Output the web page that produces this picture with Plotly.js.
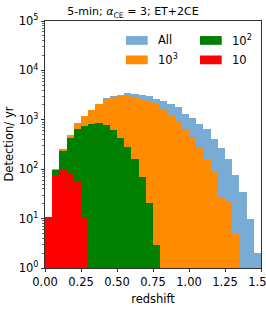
<!DOCTYPE html>
<html><head><meta charset="utf-8">
<script src="https://cdn.plot.ly/plotly-3.0.1.min.js"></script>
<style>html,body{margin:0;padding:0;background:#fff}#chart{width:266px;height:316px}</style>
</head><body><div id="chart"></div>
<script>
// redshift bin centres (bin width 0.05)
const binCenters = [0.025,0.075,0.125,0.175,0.225,0.275,0.325,0.375,0.425,0.475,
  0.525,0.575,0.625,0.675,0.725,0.775,0.825,0.875,0.925,0.975,
  1.025,1.075,1.125,1.175,1.225,1.275,1.325,1.375,1.425,1.475];
const binWidth = 0.05;
const allCounts = [10.6,100,256,482,852,1212,1585,2085,2700,3000,
  3230,3430,3400,3230,2985,2680,2400,2055,1790,1335,
  1107,824,643,417,270,159,78,33.8,9.6,2.0];
const counts1000 = [10.6,99,252,474,844,1202,1566,2070,2611,2880,
  3000,3060,2900,2560,2340,2050,1660,1280,960,640,
  442,282,157,88,26.8,21.8,4.9,null,null,null];
const counts100 = [10.6,95,239,420,664,750,810,850,776,630,
  430,280,158,70,20.3,2.9,null,null,null,null,
  null,null,null,null,null,null,null,null,null,null];
const counts10 = [10.6,73,103,83,59,10.6,null,null,null,null,
  null,null,null,null,null,null,null,null,null,null,
  null,null,null,null,null,null,null,null,null,null];
const seriesNames = ['All','10<sup>3</sup>','10<sup>2</sup>','10'];
const seriesColors = ['#79acd4','#ff8c00','#008000','#ff0000'];
const seriesData = [allCounts, counts1000, counts100, counts10];
const yTickVals = [1,10,100,1000,10000,100000];
const yTickText = ['10<sup>0</sup>','10<sup>1</sup>','10<sup>2</sup>','10<sup>3</sup>','10<sup>4</sup>','10<sup>5</sup>'];
const xTickVals = [0,0.25,0.5,0.75,1.0,1.25,1.5];
const xTickText = ['0.00','0.25','0.50','0.75','1.00','1.25','1.50'];

const minorVals = [];
for (let e = 0; e < 5; e++) for (let m = 2; m <= 9; m++) minorVals.push(m * Math.pow(10, e));

const traces = seriesData.map((vals, i) => ({
  type: 'bar', x: binCenters, y: vals, width: binWidth,
  marker: {color: seriesColors[i], line: {width: 0}},
  name: seriesNames[i], showlegend: false, hoverinfo: 'skip'
}));

// plot area in px
const L = 45, R = 261, T = 20.5, B = 268.3;
const W = 266, H = 316;
const px = v => (v - L) / (R - L);
const py = v => (B - v) / (B - T);

// manual legend (two columns)
const legendCols = [[0, 1], [2, 3]];
const colPatchX = [126, 200];
const colTextX = [156, 230];
const rowY = [40, 59.5];
const shapes = [], annotations = [];
legendCols.forEach((col, c) => col.forEach((si, r) => {
  shapes.push({type: 'rect', xref: 'paper', yref: 'paper',
    x0: px(colPatchX[c]), x1: px(colPatchX[c] + 21.7),
    y0: py(rowY[r] + 4.4), y1: py(rowY[r] - 4.4),
    fillcolor: seriesColors[si], line: {width: 0}});
  annotations.push({xref: 'paper', yref: 'paper', x: px(colTextX[c]), y: py(rowY[r]),
    xanchor: 'left', yanchor: 'middle', showarrow: false, text: seriesNames[si],
    font: {size: 11.5, color: '#000'}});
}));
annotations.push({xref: 'paper', yref: 'paper', x: px(8), y: 0.5, textangle: -90,
  xanchor: 'center', yanchor: 'middle', showarrow: false, text: 'Detection/ yr',
  font: {size: 11.5, color: '#000'}});

const layout = {
  width: W, height: H,
  margin: {l: L, r: W - R, t: T, b: H - B, pad: 0},
  paper_bgcolor: '#fff', plot_bgcolor: '#fff',
  font: {family: 'DejaVu Sans', size: 11.5, color: '#000'},
  barmode: 'overlay', bargap: 0,
  title: {text: '5-min; <i>α</i><sub>CE</sub> = 3; ET+2CE', font: {size: 11},
    x: px(153), xanchor: 'center', y: 1 - 11.5 / H, yanchor: 'middle'},
  xaxis: {range: [0, 1.5], tickmode: 'array', tickvals: xTickVals, ticktext: xTickText,
    ticks: 'outside', ticklen: 3.5, tickwidth: 0.8, tickcolor: '#000',
    ticklabeloverflow: 'allow',
    showline: true, linecolor: '#000', linewidth: 0.8, mirror: true,
    showgrid: false, zeroline: false,
    title: {text: 'redshift', font: {size: 11.5}, standoff: 6}},
  yaxis: {type: 'log', range: [0, 5], tickmode: 'array', tickvals: yTickVals, ticktext: yTickText,
    ticks: 'outside', ticklen: 3.5, tickwidth: 0.8, tickcolor: '#000',
    minor: {tickmode: 'array', tickvals: minorVals, ticks: 'outside', ticklen: 2, tickwidth: 0.6, tickcolor: '#000', showgrid: false},
    showline: true, linecolor: '#000', linewidth: 0.8, mirror: true,
    showgrid: false, zeroline: false},
  shapes: shapes, annotations: annotations
};
Plotly.newPlot('chart', traces, layout, {staticPlot: true, displayModeBar: false});
</script></body></html>
